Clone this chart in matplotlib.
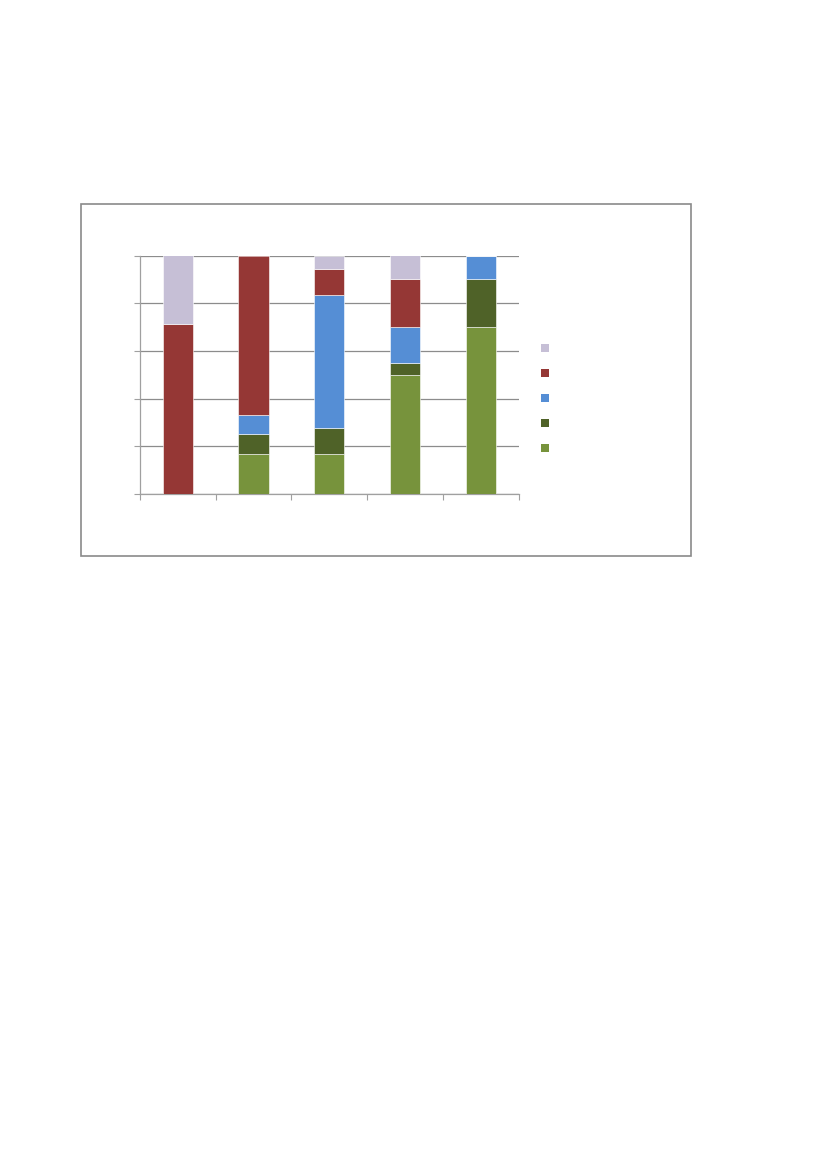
import matplotlib.pyplot as plt
from matplotlib.patches import Rectangle, Patch

# share of each series per category (fractions of 1)
categories = ["1", "2", "3", "4", "5"]
series_green = [0.0, 1 / 6, 3 / 18, 0.50, 0.70]
series_dark_green = [0.0, 1 / 12, 2 / 18, 0.05, 0.20]
series_blue = [0.0, 1 / 12, 10 / 18, 0.15, 0.10]
series_red = [5 / 7, 2 / 3, 2 / 18, 0.20, 0.0]
series_lavender = [2 / 7, 0.0, 1 / 18, 0.10, 0.0]

colors = ["#77933C", "#4F6228", "#558ED5", "#953735", "#C6BFD6"]
stack = [series_green, series_dark_green, series_blue, series_red, series_lavender]

fig = plt.figure(figsize=(8.27, 11.69), dpi=100)

# outer chart frame
fig.patches.append(Rectangle((81 / 827, 1 - 556 / 1169), 610 / 827, 352 / 1169,
                             transform=fig.transFigure, fill=False,
                             edgecolor="#8a8a8a", linewidth=1.2))

ax = fig.add_axes([140 / 827, 1 - 494 / 1169, 378.5 / 827, 238.5 / 1169])

x = list(range(len(categories)))
bottom = [0.0] * len(categories)
for vals, c in zip(stack, colors):
    ax.bar(x, vals, bottom=bottom, width=0.4, color=c, edgecolor="white",
           linewidth=0.4, zorder=3)
    bottom = [b + v for b, v in zip(bottom, vals)]

ax.set_xlim(-0.5, len(categories) - 0.5)
ax.set_ylim(0, 1)
ax.set_yticks([0, 0.2, 0.4, 0.6, 0.8, 1.0])
ax.set_xticks([i - 0.5 for i in range(len(categories) + 1)])
ax.set_xticklabels([])
ax.set_yticklabels([])
ax.tick_params(axis="both", length=4, width=0.8, color="#a0a0a0")
ax.grid(axis="y", color="#8c8c8c", linewidth=0.9, zorder=0)

for side in ["top", "right"]:
    ax.spines[side].set_visible(False)
for side in ["left", "bottom"]:
    ax.spines[side].set_color("#a0a0a0")
    ax.spines[side].set_linewidth(0.9)

handles = [Patch(facecolor=c, edgecolor="none") for c in reversed(colors)]
fig.legend(handles, [" "] * 5, loc="upper left",
           bbox_to_anchor=(532 / 827, 1 - 335 / 1169), frameon=False,
           fontsize=8, handlelength=0.75, handleheight=0.75,
           labelspacing=1.35, handletextpad=0.5, borderpad=0.3)

fig.savefig("out.png", dpi=100)
